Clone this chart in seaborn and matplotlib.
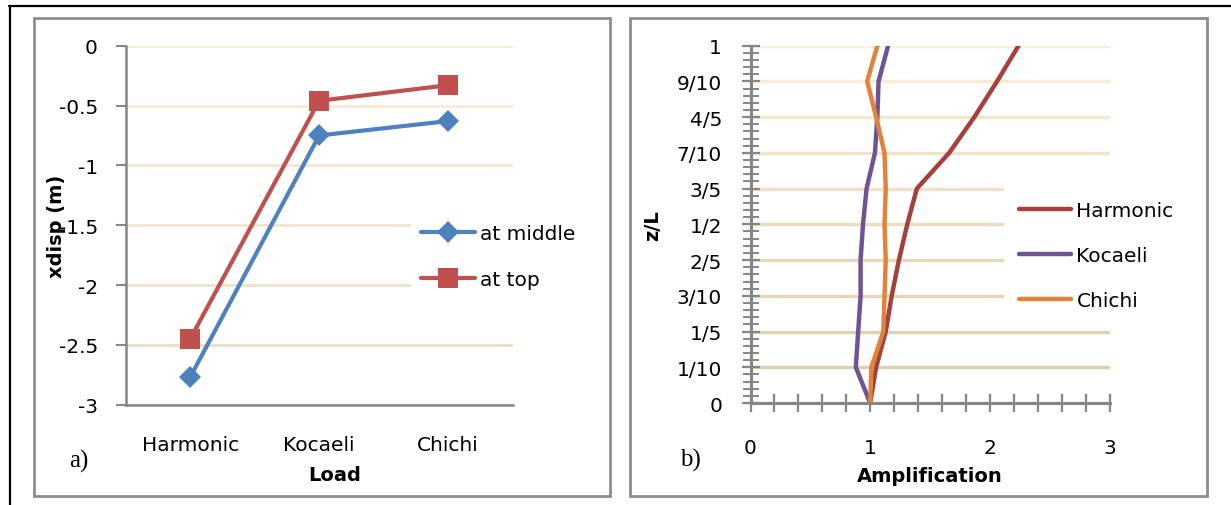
import numpy as np
import pandas as pd
import matplotlib
matplotlib.use("Agg")
import matplotlib.pyplot as plt
import seaborn as sns
from matplotlib.ticker import MultipleLocator
from matplotlib.patches import Rectangle
from matplotlib.lines import Line2D

# ---------------- data ----------------
loads = ["Harmonic", "Kocaeli", "Chichi"]
disp_middle = [-2.77, -0.75, -0.63]
disp_top = [-2.45, -0.46, -0.33]

zl = [0.0, 0.1, 0.2, 0.3, 0.4, 0.5, 0.6, 0.7, 0.8, 0.9, 1.0]
zl_labels = ["0", "1/10", "1/5", "3/10", "2/5", "1/2", "3/5", "7/10", "4/5", "9/10", "1"]
amp_harmonic = [1.00, 1.05, 1.13, 1.18, 1.24, 1.31, 1.39, 1.66, 1.87, 2.06, 2.24]
amp_kocaeli = [1.00, 0.88, 0.90, 0.92, 0.92, 0.94, 0.97, 1.04, 1.06, 1.07, 1.15]
amp_chichi = [1.00, 1.01, 1.11, 1.12, 1.13, 1.12, 1.13, 1.12, 1.05, 0.975, 1.06]

# ---------------- style ----------------
sns.set_theme(style="white")
plt.rcParams["font.family"] = ["DejaVu Sans"]
plt.rcParams["text.color"] = "black"
plt.rcParams["axes.labelcolor"] = "black"
plt.rcParams["xtick.labelcolor"] = "black"
plt.rcParams["ytick.labelcolor"] = "black"
FS = 14.5
GREY = "#868686"

W, H = 1231, 506
fig = plt.figure(figsize=(W / 100, H / 100), dpi=100)

def fx(px):
    return px / W

def fy(py):
    return 1 - py / H

# frames (document lines and panel boxes)
fig.add_artist(Line2D([fx(9), 1.0], [fy(7), fy(7)], color="black", lw=1.6, transform=fig.transFigure))
fig.add_artist(Line2D([fx(10), fx(10)], [0, fy(7)], color="black", lw=1.6, transform=fig.transFigure))
for x0, x1 in [(34, 610), (630, 1207)]:
    fig.add_artist(Rectangle((fx(x0), fy(497)), fx(x1) - fx(x0), fy(19) - fy(497),
                             transform=fig.transFigure, fill=False, ec="#8C8C8C", lw=2))

def color_grid(ax, values, vmin, vmax, top_hex, bot_hex):
    ct = np.array(matplotlib.colors.to_rgb(top_hex))
    cb = np.array(matplotlib.colors.to_rgb(bot_hex))
    for gl, v in zip(ax.yaxis.get_gridlines(), values):
        t = (v - vmin) / (vmax - vmin)
        gl.set_color(tuple(cb * (1 - t) + ct * t))

# ---------------- panel a ----------------
axa = fig.add_axes([fx(125.7), fy(405.7), fx(512.6) - fx(125.7), fy(46.7) - fy(405.7)])
df_a = pd.DataFrame({
    "Load": loads * 2,
    "xdisp": disp_middle + disp_top,
    "Position": ["at middle"] * 3 + ["at top"] * 3,
})
sns.lineplot(data=df_a, x="Load", y="xdisp", hue="Position", style="Position",
             palette={"at middle": "#4F81BD", "at top": "#C0504D"},
             markers={"at middle": "D", "at top": "s"}, dashes=False,
             lw=3, markersize=11, markeredgewidth=0, legend=False, ax=axa)
axa.lines[1].set_markersize(14)

axa.set_xlim(-0.5, 2.5)
axa.set_ylim(-3, 0)
yt = [-3, -2.5, -2, -1.5, -1, -0.5, 0]
axa.set_yticks(yt)
axa.set_yticklabels(["-3", "-2.5", "-2", "-1.5", "-1", "-0.5", "0"])
axa.set_xticks([-0.5, 0.5, 1.5, 2.5])
axa.set_xticklabels(["", "", "", ""])
axa.set_xticks([0, 1, 2], minor=True)
axa.set_xticklabels(loads, minor=True)
axa.tick_params(axis="x", which="major", direction="out", length=9, width=1.5, color=GREY)
axa.tick_params(axis="x", which="minor", length=0, pad=22, labelsize=FS)
axa.tick_params(axis="y", which="major", direction="out", length=7, width=1.5, color=GREY,
                pad=13, labelsize=FS, left=True)
axa.grid(axis="y", lw=2.0)
axa.grid(axis="x", visible=False)
color_grid(axa, yt, -3, 0, "#FCEED6", "#E6DCC0")
for s in ["top", "right"]:
    axa.spines[s].set_visible(False)
for s in ["left", "bottom"]:
    axa.spines[s].set_color(GREY)
    axa.spines[s].set_linewidth(1.8)
axa.set_xlabel("Load", fontsize=14, fontweight="bold", va="center")
axa.xaxis.set_label_coords((335 - 125.7) / 386.9, (405.7 - 476) / 359)
axa.set_ylabel("xdisp (m)", fontsize=14, fontweight="bold", va="center")
axa.yaxis.set_label_coords((57 - 125.7) / 386.9, 0.5)
axa.legend(axa.lines[:2], ["at middle", "at top"], loc="center left",
           bbox_to_anchor=(fx(411), fy(257.5)), bbox_transform=fig.transFigure,
           frameon=True, facecolor="white", edgecolor="none", framealpha=1,
           fontsize=FS, handlelength=2.7, handletextpad=0.25, labelspacing=1.35,
           borderaxespad=0, borderpad=0.5, fancybox=False)
fig.text(fx(79), fy(461), "a)", fontsize=18, family="Liberation Serif", ha="center", va="center")

# ---------------- panel b ----------------
axb = fig.add_axes([fx(750.5), fy(404), fx(1109.5) - fx(750.5), fy(46.7) - fy(404)])
df_b = pd.DataFrame({
    "z/L": zl * 3,
    "Amplification": amp_harmonic + amp_kocaeli + amp_chichi,
    "Load": ["Harmonic"] * len(zl) + ["Kocaeli"] * len(zl) + ["Chichi"] * len(zl),
})
sns.lineplot(data=df_b, x="Amplification", y="z/L", hue="Load", orient="y", sort=False,
             palette={"Harmonic": "#A5403D", "Kocaeli": "#6E5494", "Chichi": "#E1833A"},
             lw=3.2, legend=False, ax=axb, estimator=None)
axb.set_xlim(0, 3)
axb.set_ylim(0, 1)
axb.set_xticks([0, 1, 2, 3])
axb.set_xticklabels(["0", "1", "2", "3"])
axb.xaxis.set_minor_locator(MultipleLocator(0.2))
axb.set_yticks(zl)
axb.set_yticklabels(zl_labels)
axb.yaxis.set_minor_locator(MultipleLocator(0.02))
axb.tick_params(axis="x", which="both", direction="inout", length=13, width=1.6, color=GREY,
                bottom=True, pad=19, labelsize=FS)
axb.tick_params(axis="y", which="major", direction="inout", length=13, width=1.6, color=GREY,
                left=True, pad=14, labelsize=FS)
axb.tick_params(axis="y", which="minor", direction="inout", length=11, width=1.4, color=GREY,
                left=True)
axb.grid(axis="y", which="major", lw=2.4)
axb.grid(axis="x", visible=False)
color_grid(axb, zl, 0, 1, "#FCEFD9", "#D8CBA8")
for s in ["top", "right"]:
    axb.spines[s].set_visible(False)
for s in ["left", "bottom"]:
    axb.spines[s].set_color(GREY)
    axb.spines[s].set_linewidth(2.2)
axb.set_xlabel("Amplification", fontsize=14, fontweight="bold", va="center")
axb.xaxis.set_label_coords(0.5, (404 - 477) / 357.3)
axb.set_ylabel("z/L", fontsize=14, fontweight="bold", va="center")
axb.yaxis.set_label_coords((653 - 750.5) / 359, 0.5)
axb.legend(axb.lines[:3], ["Harmonic", "Kocaeli", "Chichi"], loc="center left",
           bbox_to_anchor=(fx(1004), fy(256.5)), bbox_transform=fig.transFigure,
           frameon=True, facecolor="white", edgecolor="none", framealpha=1,
           fontsize=FS, handlelength=2.6, handletextpad=0.25, labelspacing=1.3,
           borderaxespad=0, borderpad=0.75, fancybox=False)
fig.text(fx(690), fy(460), "b)", fontsize=18, family="Liberation Serif", ha="center", va="center")

fig.savefig("out.png", dpi=100)
